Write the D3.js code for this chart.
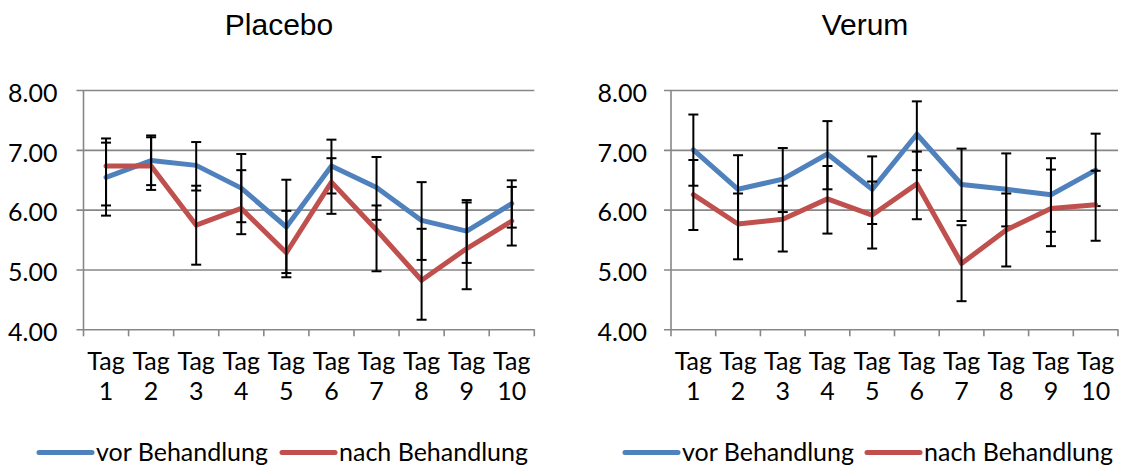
<!DOCTYPE html>
<html>
<head>
<meta charset="utf-8">
<script src="https://cdn.jsdelivr.net/npm/d3@7"></script>
<style>
  html, body { margin: 0; padding: 0; background: #fff; }
  svg { display: block; }
  .tick-label { font-family: Lato, "Open Sans", sans-serif; font-size: 25px; fill: #000; }
  .title { font-family: "Liberation Sans", Arial, sans-serif; font-size: 30px; fill: #000; }
</style>
</head>
<body>
<svg id="chart" width="1122" height="466"></svg>
<script>
const days = ['Tag 1', 'Tag 2', 'Tag 3', 'Tag 4', 'Tag 5', 'Tag 6', 'Tag 7', 'Tag 8', 'Tag 9', 'Tag 10'];
const yTicks = [4, 5, 6, 7, 8];
const seriesNames = ['vor Behandlung', 'nach Behandlung'];

// Placebo
const placeboVor = [6.54, 6.82, 6.74, 6.36, 5.71, 6.73, 6.37, 5.82, 5.64, 6.10];
const placeboNach = [6.73, 6.73, 5.74, 6.02, 5.28, 6.46, 5.66, 4.82, 5.35, 5.81];
const placeboVorLow = [5.90, 6.41, 6.32, 5.79, 4.94, 6.27, 5.83, 5.16, 5.11, 5.70];
const placeboVorHigh = [7.19, 7.24, 7.13, 6.93, 6.50, 7.17, 6.88, 6.46, 6.16, 6.49];
const placeboNachLow = [6.07, 6.33, 5.08, 5.59, 4.87, 5.93, 4.97, 4.16, 4.67, 5.40];
const placeboNachHigh = [7.12, 7.21, 6.40, 6.66, 5.98, 6.86, 6.07, 5.68, 6.12, 6.38];

// Verum
const verumVor = [7.00, 6.34, 6.51, 6.93, 6.34, 7.26, 6.42, 6.34, 6.25, 6.66];
const verumNach = [6.25, 5.76, 5.84, 6.18, 5.91, 6.43, 5.10, 5.66, 6.02, 6.08];
const verumVorLow = [6.40, 5.78, 5.96, 6.34, 5.76, 6.66, 5.81, 5.72, 5.63, 6.06];
const verumVorHigh = [7.59, 6.91, 7.03, 7.48, 6.89, 7.81, 7.02, 6.94, 6.86, 7.27];
const verumNachLow = [5.66, 5.17, 5.30, 5.60, 5.35, 5.84, 4.47, 5.05, 5.39, 5.48];
const verumNachHigh = [6.83, 6.27, 6.40, 6.73, 6.47, 6.97, 5.74, 6.27, 6.67, 6.65];

const colors = ['#4f81bd', '#c0504d'];
const gridColor = '#878787';

const svg = d3.select('#chart');

function drawPanel(cfg) {
  const g = svg.append('g');
  const y = d3.scaleLinear().domain([4, 8]).range([329.3, 90]);
  const x = d3.scaleBand().domain(days).range([cfg.x0, cfg.x1]);
  const cx = (d) => x(d) + x.bandwidth() / 2;

  // title
  g.append('text')
    .attr('class', 'title')
    .attr('x', cfg.titleX)
    .attr('y', 35)
    .attr('text-anchor', 'middle')
    .text(cfg.title);

  // gridlines + y labels
  const yAxis = d3.axisLeft(y)
    .tickValues(yTicks)
    .tickFormat(d3.format('.2f'))
    .tickSize(cfg.x1 - cfg.x0 + 7)
    .tickPadding(cfg.labelPad);
  const ya = g.append('g')
    .attr('transform', 'translate(' + cfg.x1 + ',0)')
    .call(yAxis);
  ya.select('.domain').remove();
  ya.attr('font-family', null).attr('font-size', null);
  ya.selectAll('.tick line').attr('stroke', gridColor).attr('stroke-width', 1.6);
  ya.selectAll('.tick text')
    .attr('class', 'tick-label')
    .attr('dy', '0.45em');

  // vertical axis line
  g.append('line')
    .attr('x1', cfg.x0).attr('x2', cfg.x0)
    .attr('y1', y(8)).attr('y2', y(4))
    .attr('stroke', gridColor).attr('stroke-width', 1.6);

  // x tick marks at category boundaries
  const edges = days.map((d) => x(d)).concat([cfg.x1]);
  g.append('g').selectAll('line')
    .data(edges)
    .enter()
    .append('line')
    .attr('x1', (d) => d).attr('x2', (d) => d)
    .attr('y1', y(4)).attr('y2', y(4) + 7)
    .attr('stroke', gridColor).attr('stroke-width', 1.6);

  // x labels, two lines
  const xl = g.append('g').selectAll('text')
    .data(days)
    .enter()
    .append('text')
    .attr('class', 'tick-label')
    .attr('text-anchor', 'middle')
    .attr('x', cx);
  xl.append('tspan').attr('x', cx).attr('y', 370).text((d) => d.split(' ')[0]);
  xl.append('tspan').attr('x', cx).attr('y', 400).text((d) => d.split(' ')[1]);

  const line = d3.line()
    .x((d, i) => cx(days[i]))
    .y((d) => y(d));

  cfg.series.forEach((s, k) => {
    g.append('path')
      .datum(s.values)
      .attr('fill', 'none')
      .attr('stroke', colors[k])
      .attr('stroke-width', 5)
      .attr('stroke-linejoin', 'round')
      .attr('stroke-linecap', 'round')
      .attr('d', line);

    const eb = g.append('g')
      .attr('stroke', '#000')
      .attr('stroke-width', 2)
      .selectAll('g')
      .data(days)
      .enter()
      .append('g');
    eb.append('line')
      .attr('x1', cx).attr('x2', cx)
      .attr('y1', (d, i) => y(s.low[i]))
      .attr('y2', (d, i) => y(s.high[i]));
    eb.append('line')
      .attr('x1', (d) => cx(d) - 5).attr('x2', (d) => cx(d) + 5)
      .attr('y1', (d, i) => y(s.low[i]))
      .attr('y2', (d, i) => y(s.low[i]));
    eb.append('line')
      .attr('x1', (d) => cx(d) - 5).attr('x2', (d) => cx(d) + 5)
      .attr('y1', (d, i) => y(s.high[i]))
      .attr('y2', (d, i) => y(s.high[i]));
  });

  // legend
  const lg = g.append('g').selectAll('g')
    .data(seriesNames)
    .enter()
    .append('g')
    .attr('transform', (d, i) => 'translate(' + cfg.legendX[i] + ',0)');
  lg.append('line')
    .attr('x1', 2).attr('x2', 55)
    .attr('y1', 452.5).attr('y2', 452.5)
    .attr('stroke', (d, i) => colors[i])
    .attr('stroke-width', 5)
    .attr('stroke-linecap', 'round');
  lg.append('text')
    .attr('class', 'tick-label')
    .attr('x', 59)
    .attr('y', 461)
    .text((d) => d);
}

drawPanel({
  title: 'Placebo',
  titleX: 279,
  x0: 83.5,
  x1: 534.3,
  labelPad: 19,
  legendX: [37, 280],
  series: [
    { values: placeboVor, low: placeboVorLow, high: placeboVorHigh },
    { values: placeboNach, low: placeboNachLow, high: placeboNachHigh },
  ],
});

drawPanel({
  title: 'Verum',
  titleX: 865,
  x0: 671,
  x1: 1118,
  labelPad: 17,
  legendX: [623, 865],
  series: [
    { values: verumVor, low: verumVorLow, high: verumVorHigh },
    { values: verumNach, low: verumNachLow, high: verumNachHigh },
  ],
});
</script>
</body>
</html>
